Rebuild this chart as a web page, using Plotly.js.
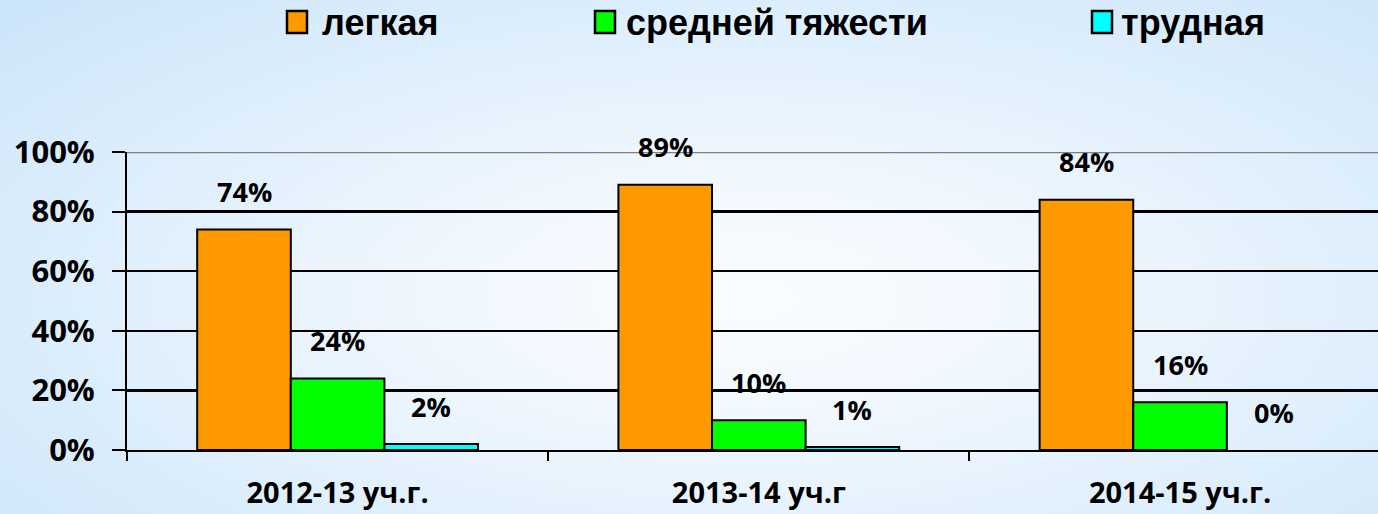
<!DOCTYPE html>
<html>
<head>
<meta charset="utf-8">
<script src="https://cdn.plot.ly/plotly-3.0.1.min.js"></script>
<style>
html, body { margin: 0; padding: 0; overflow: hidden; }
body {
  width: 1378px; height: 514px;
  background: radial-gradient(ellipse 75% 85% at 54% 58%, #FAFDFF 0%, #F0F7FE 30%, #DDEEFC 65%, #CBE4F9 100%);
}
#chart { width: 1378px; height: 514px; }
</style>
</head>
<body>
<div id="chart"></div>
<script>
// ---- data ----
const categories = ['2012-13 уч.г.', '2013-14 уч.г', '2014-15 уч.г.'];
const seriesNames = ['легкая', 'средней тяжести', 'трудная'];
const light = [74, 89, 84];
const medium = [24, 10, 16];
const hard = [2, 1, 0];
const yTickVals = [0, 20, 40, 60, 80, 100];
const yTickText = ['0%', '20%', '40%', '60%', '80%', '100%'];

// ---- style ----
const colors = ['#FF9900', '#00FF00', '#00FFFF'];
const seriesValues = [light, medium, hard];
const bargap = 1 / 3;
const L = 127, R = 0, T = 152, B = 64, W = 1378, H = 514;
const plotW = W - L - R, plotH = H - T - B;
const px2x = px => (px - L) / plotW;
const py2y = py => (H - B - py) / plotH;

const traces = seriesValues.map((vals, s) => ({
  type: 'bar',
  name: seriesNames[s],
  x: categories,
  y: vals,
  marker: {
    color: colors[s],
    line: { color: '#000000', width: vals.map(v => (v > 0 ? 2 : 0)) }
  },
  hoverinfo: 'none',
  showlegend: false
}));

// data labels
const n = seriesValues.length;
const bw = (1 - bargap) / n;
const annotations = [];
seriesValues.forEach((vals, s) => {
  vals.forEach((v, i) => {
    annotations.push({
      xref: 'x', yref: 'y',
      x: i + (s - (n - 1) / 2) * bw,
      y: v,
      text: v + '%',
      showarrow: false,
      yanchor: 'middle',
      xanchor: 'center',
      yshift: 38,
      font: { family: 'Open Sans', size: 27, color: '#000000', weight: 'bold' }
    });
  });
});

// custom legend
const legendSwatchX = [287, 595, 1092];
const legendTextX = [320, 624, 1119];
const shapes = [];
seriesNames.forEach((name, s) => {
  shapes.push({
    type: 'rect', xref: 'paper', yref: 'paper', layer: 'above',
    x0: px2x(legendSwatchX[s]), x1: px2x(legendSwatchX[s] + 20),
    y0: py2y(33), y1: py2y(11),
    fillcolor: colors[s], line: { color: '#000000', width: 2.5 }
  });
  annotations.push({
    xref: 'paper', yref: 'paper',
    x: px2x(legendTextX[s]), y: py2y(22),
    xanchor: 'left', yanchor: 'middle',
    text: name, showarrow: false,
    font: { family: 'Liberation Sans', size: 36, color: '#000000', weight: 'bold' }
  });
});
// top gridline (gray)
shapes.push({
  type: 'line', xref: 'paper', yref: 'y', layer: 'above',
  x0: 0, x1: 1, y0: 100, y1: 100,
  line: { color: '#808080', width: 2.5 }
});

const layout = {
  width: W, height: H,
  margin: { l: L, r: R, t: T, b: B, pad: 0 },
  paper_bgcolor: 'rgba(0,0,0,0)',
  plot_bgcolor: 'rgba(0,0,0,0)',
  barmode: 'group',
  bargap: bargap,
  bargroupgap: 0,
  showlegend: false,
  xaxis: {
    type: 'category',
    range: [-0.5, 2.47],
    showline: true, linecolor: '#000000', linewidth: 2,
    ticks: 'outside', tickson: 'boundaries', ticklen: 9, tickwidth: 2, tickcolor: '#000000',
    showgrid: false,
    ticklabelstandoff: 16,
    tickfont: { family: 'Open Sans', size: 29, color: '#000000', weight: 'bold' }
  },
  yaxis: {
    range: [0, 100],
    tickvals: yTickVals, ticktext: yTickText,
    showline: true, linecolor: '#000000', linewidth: 2,
    ticks: 'outside', ticklen: 13, tickwidth: 2, tickcolor: '#000000',
    showgrid: true, gridcolor: '#000000', gridwidth: 2.5,
    zeroline: false,
    ticklabelstandoff: 11,
    tickfont: { family: 'Open Sans', size: 31, color: '#000000', weight: 'bold' }
  },
  annotations: annotations,
  shapes: shapes
};

Plotly.newPlot('chart', traces, layout, { staticPlot: true, displayModeBar: false });
</script>
</body>
</html>
